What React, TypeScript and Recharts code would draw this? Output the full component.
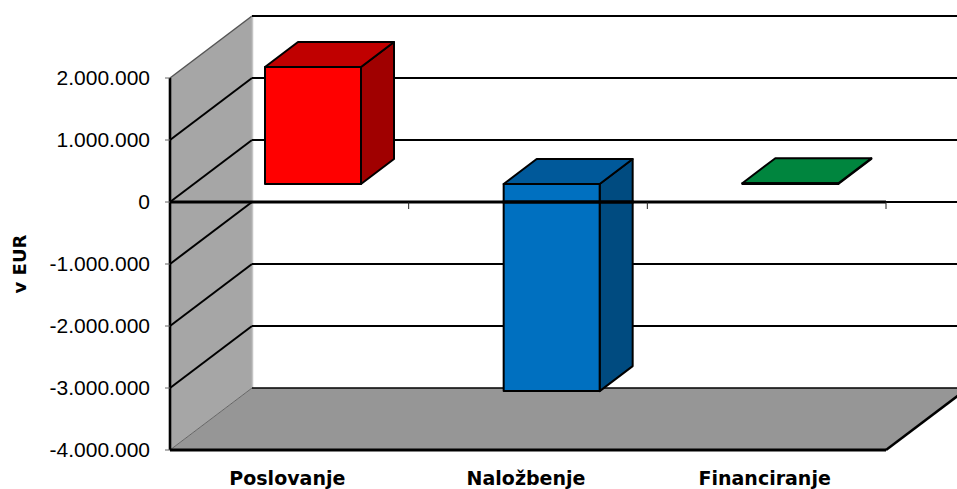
import React from "react";
import { BarChart, Bar, XAxis, YAxis, ReferenceArea, ReferenceLine } from "recharts";

const categories = ["Poslovanje", "Naložbenje", "Financiranje"];
const cashFlow = [1887000, -3340000, 12000];
const yTicks = [2000000, 1000000, 0, -1000000, -2000000, -3000000, -4000000];
const gridValues = [1000000, 0, -1000000, -2000000, -3000000];
const faceColors = ["#ff0000", "#0070c0", "#00853e"];
const topColors = ["#c00000", "#00599a", "#00853e"];
const sideColors = ["#a00000", "#004b80", "#005a2a"];

const rows = categories.map((name, i) => ({ name, value: cashFlow[i] }));

const WALL_DX = 82;
const WALL_DY = -62;
const BAR_DX = 24;
const BAR_DY = -18;
const BOX_DX = 33;
const BOX_DY = -25;

const fmt = (v: number) =>
  (v < 0 ? "-" : "") + String(Math.abs(v)).replace(/\B(?=(\d{3})+(?!\d))/g, ".");

const pts = (p: number[][]) => p.map((q) => q.join(",")).join(" ");

function Walls(props: any) {
  const { x, y, width, height } = props;
  const b = y + height;
  return (
    <g>
      <polygon
        points={pts([[x, y], [x + WALL_DX, y + WALL_DY], [x + WALL_DX, b + WALL_DY], [x, b]])}
        fill="#a6a6a6"
      />
      <line x1={x} y1={y} x2={x + WALL_DX} y2={y + WALL_DY} stroke="#555" strokeWidth={1.5} />
      <line x1={x + WALL_DX + 0.5} y1={y + WALL_DY} x2={x + WALL_DX + 0.5} y2={b + WALL_DY} stroke="#c4c4c4" strokeWidth={1.5} />
      <polygon
        points={pts([[x, b], [x + WALL_DX, b + WALL_DY], [x + width + WALL_DX, b + WALL_DY], [x + width, b]])}
        fill="#969696"
      />
      <line x1={x} y1={b} x2={x + WALL_DX} y2={b + WALL_DY} stroke="#666" strokeWidth={1} />
      <line x1={x + width} y1={b} x2={x + width + WALL_DX} y2={b + WALL_DY} stroke="#000" strokeWidth={2.5} />
      <line x1={x + WALL_DX} y1={b + WALL_DY} x2={x + width + WALL_DX} y2={b + WALL_DY} stroke="#000" strokeWidth={1.5} />
      <line x1={x + WALL_DX} y1={y + WALL_DY} x2={x + width + WALL_DX} y2={y + WALL_DY} stroke="#000" strokeWidth={2} />
    </g>
  );
}

function GridRow(props: any) {
  const { x1, y1, x2, y2 } = props;
  return (
    <g>
      <line x1={x1} y1={y1} x2={x1 + WALL_DX} y2={y1 + WALL_DY} stroke="#000" strokeWidth={2} />
      <line x1={x1 + WALL_DX} y1={y1 + WALL_DY} x2={x2 + WALL_DX} y2={y2 + WALL_DY} stroke="#000" strokeWidth={2} />
    </g>
  );
}

function TopRow(props: any) {
  const { x1, y1, x2, y2 } = props;
  return <line x1={x1 + WALL_DX} y1={y1 + WALL_DY} x2={x2 + WALL_DX} y2={y2 + WALL_DY} stroke="#000" strokeWidth={2} />;
}

function ZeroAxis(props: any) {
  const { x1, y1, x2, y2 } = props;
  const step = (x2 - x1) / categories.length;
  return (
    <g>
      <line x1={x1} y1={y1} x2={x2} y2={y2} stroke="#000" strokeWidth={3} />
      {categories.map((c, i) => (
        <line key={c} x1={x1 + step * (i + 1)} y1={y1} x2={x1 + step * (i + 1)} y2={y1 + 7} stroke="#222" strokeWidth={1} />
      ))}
    </g>
  );
}

function Box(props: any) {
  const { x, y, width, height, index } = props;
  const top = Math.min(y, y + height) + BAR_DY;
  const bottom = Math.max(y, y + height) + BAR_DY;
  const left = x + BAR_DX;
  const right = left + width;
  const zeroY = Math.min(y, y + height);
  const stroke = { stroke: "#000", strokeWidth: 2, strokeLinejoin: "round" as const };
  return (
    <g>
      <polygon
        points={pts([[right, top], [right + BOX_DX, top + BOX_DY], [right + BOX_DX, bottom + BOX_DY], [right, bottom]])}
        fill={sideColors[index]}
        {...stroke}
      />
      <polygon
        points={pts([[left, top], [left + BOX_DX, top + BOX_DY], [right + BOX_DX, top + BOX_DY], [right, top]])}
        fill={topColors[index]}
        {...stroke}
      />
      <rect x={left} y={top} width={width} height={bottom - top} fill={faceColors[index]} {...stroke} />
      {cashFlow[index] < 0 && (
        <line x1={left - 1} y1={zeroY} x2={right + BOX_DX + 1} y2={zeroY} stroke="#000" strokeWidth={3} />
      )}
    </g>
  );
}

export default function App() {
  return (
    <div style={{ position: "absolute", left: 0, top: 0, width: 957, height: 489, background: "#fff" }}>
      <BarChart
        width={957}
        height={489}
        data={rows}
        margin={{ top: 78, right: 71, bottom: 0, left: 0 }}
        barSize={96}
      >
        <ReferenceArea
          x1={categories[0]}
          x2={categories[2]}
          y1={-4000000}
          y2={2000000}
          ifOverflow="visible"
          zIndex={50}
          shape={(p: any) => <Walls x={p.x} y={p.y} width={p.width} height={p.height} />}
        />
        <ReferenceLine y={2000000} ifOverflow="visible" shape={TopRow} zIndex={60} />
        {gridValues.map((v) => (
          <ReferenceLine key={v} y={v} ifOverflow="visible" shape={GridRow} zIndex={60} />
        ))}
        <XAxis
          dataKey="name"
          height={39}
          interval={0}
          tickLine={false}
          axisLine={{ stroke: "#000", strokeWidth: 3 }}
          tickMargin={16}
          tick={{ fontFamily: "DejaVu Sans", fontWeight: 700, fontSize: 19, fill: "#000", dx: -2 }}
        />
        <YAxis
          type="number"
          width={170}
          domain={[-4000000, 2000000]}
          ticks={yTicks}
          interval={0}
          tickFormatter={fmt}
          tickSize={5}
          tickMargin={15}
          axisLine={{ stroke: "#000", strokeWidth: 2.6 }}
          tickLine={{ stroke: "#666", strokeWidth: 1 }}
          tick={{ fontFamily: "Liberation Sans", fontSize: 21, fill: "#000" }}
          label={{
            value: "v EUR",
            angle: -90,
            position: "insideLeft",
            offset: 0,
            dx: 20,
            style: { fontFamily: "DejaVu Sans", fontWeight: 700, fontSize: 18, fill: "#000", textAnchor: "middle" },
          }}
        />
        <Bar dataKey="value" isAnimationActive={false} shape={Box} />
        <ReferenceLine y={0} ifOverflow="visible" shape={ZeroAxis} zIndex={2500} />
      </BarChart>
    </div>
  );
}
